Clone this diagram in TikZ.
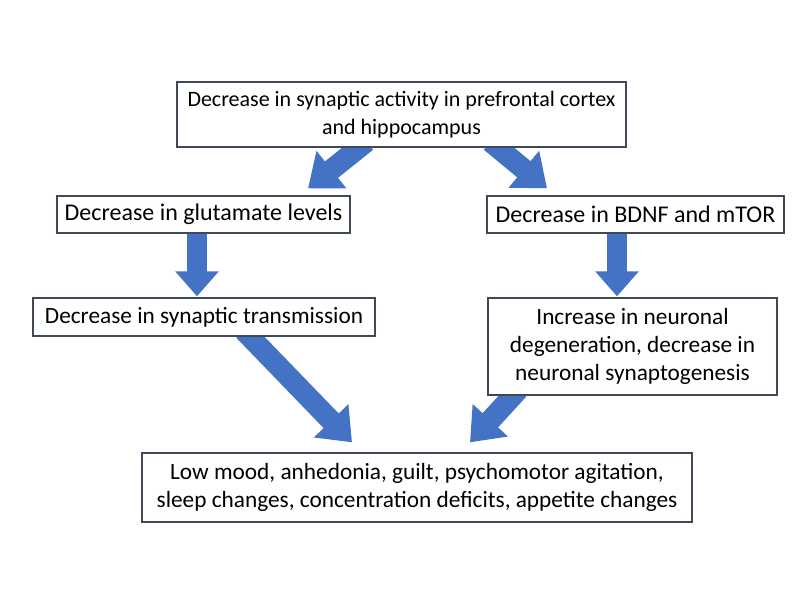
\documentclass[tikz,border=0pt]{standalone}
\usepackage{fontspec}
\setmainfont{Carlito}
\usetikzlibrary{arrows.meta}
\usetikzlibrary{backgrounds,calc}
\definecolor{boxline}{RGB}{62,72,86}
\definecolor{arrowblue}{RGB}{68,114,196}

\begin{document}
\begin{tikzpicture}[x=1pt,y=-1pt,
  stepbox/.style={draw=boxline,line width=1.3pt,fill=white,align=center,
    inner sep=0pt,font=\fontsize{23.3}{28}\selectfont},
  fatarrow/.style={draw=arrowblue,line width=20pt,
    -{Triangle[width=42pt,length=25pt]}},
  slantarrow/.style={draw=arrowblue,line width=21pt,
    -{Triangle[width=46pt,length=30pt]}}]
\useasboundingbox (0,0) rectangle (800,608);

\node[stepbox,minimum width=449pt,minimum height=65pt,
  font=\fontsize{22}{28}\selectfont] (top) at (401.5,114.5)
  {Decrease in synaptic activity in prefrontal cortex\\and hippocampus};
\node[stepbox,minimum width=293pt,minimum height=37pt,
  font=\fontsize{24}{28}\selectfont] (glu) at (203.5,214.5)
  {Decrease in glutamate levels};
\node[stepbox,minimum width=297pt,minimum height=37pt,
  font=\fontsize{24}{28}\selectfont] (bdnf) at (635.5,214.5)
  {Decrease in BDNF and mTOR};
\node[stepbox,minimum width=342pt,minimum height=38pt] (trans) at (204,317)
  {Decrease in synaptic transmission};
\node[stepbox,minimum width=289pt,minimum height=97pt] (neur) at (632.5,346.5)
  {Increase in neuronal\\degeneration, decrease in\\neuronal synaptogenesis};
\node[stepbox,minimum width=550pt,minimum height=69pt] (low) at (417,487.5)
  {Low mood, anhedonia, guilt, psychomotor agitation,\\sleep changes, concentration deficits, appetite changes};

\begin{scope}[on background layer]
\draw[slantarrow] ($(top.south)+(-35,-6)$) -- ($(glu.north)+(104.5,-7)$);
\draw[slantarrow] ($(top.south)+(89,-6)$) -- ($(bdnf.north)+(-88.5,-7)$);
\draw[fatarrow] ($(glu.south)+(-6.5,-2)$) -- ($(trans.north)+(-7,-1)$);
\draw[fatarrow] ($(bdnf.south)+(-18.5,-2)$) -- ($(neur.north)+(-15.5,-1)$);
\draw[slantarrow] ($(trans.south)+(40,-6)$) -- ($(low.north)+(-65,-10)$);
\draw[slantarrow] ($(neur.south)+(-114,-6)$) -- ($(low.north)+(53,-10)$);
\end{scope}
\end{tikzpicture}
\end{document}
